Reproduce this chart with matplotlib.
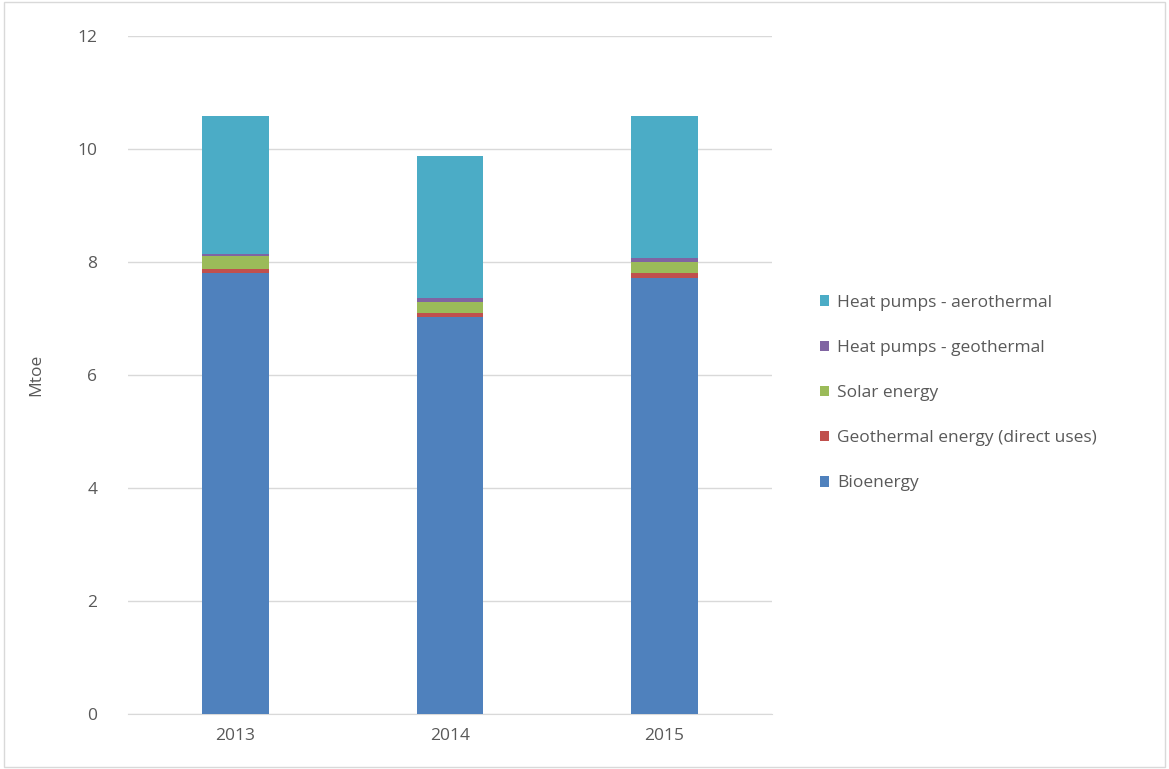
import numpy as np
import matplotlib
matplotlib.use("Agg")
import matplotlib.pyplot as plt
from matplotlib.patches import Rectangle

years = ["2013", "2014", "2015"]
bioenergy = [7.80, 7.02, 7.72]
geothermal_direct = [0.08, 0.08, 0.08]
solar = [0.22, 0.20, 0.20]
hp_geothermal = [0.05, 0.06, 0.07]
hp_aerothermal = [2.43, 2.52, 2.52]

series = [
    ("Bioenergy", bioenergy, "#4F81BD"),
    ("Geothermal energy (direct uses)", geothermal_direct, "#C0504D"),
    ("Solar energy", solar, "#9BBB59"),
    ("Heat pumps - geothermal", hp_geothermal, "#8064A2"),
    ("Heat pumps - aerothermal", hp_aerothermal, "#4BACC6"),
]

plt.rcParams['font.family'] = ['Open Sans', 'DejaVu Sans']
txt = "#595959"

fig = plt.figure(figsize=(11.69, 7.69), dpi=100)
ax = fig.add_axes([0.1095, 0.0715, 0.5505, 0.8815])

x = np.arange(len(years))
bottom = np.zeros(len(years))
handles = []
for name, vals, col in series:
    b = ax.bar(x, vals, width=0.31, bottom=bottom, color=col, label=name, zorder=3)
    handles.append(b)
    bottom += np.array(vals)

ax.set_xlim(-0.5, 2.5)
ax.set_ylim(0, 12)
ax.set_yticks(range(0, 13, 2))
ax.set_xticks(x)
ax.set_xticklabels(years)
ax.yaxis.grid(True, color="#D9D9D9", linewidth=1, zorder=0)
for s in ["top", "right", "left"]:
    ax.spines[s].set_visible(False)
ax.spines["bottom"].set_color("#D9D9D9")
ax.tick_params(axis="both", length=0, labelsize=12.5, colors=txt, pad=10)
ax.tick_params(axis="y", pad=22)
ax.set_ylabel("Mtoe", fontsize=12.5, color=txt, labelpad=24)

leg = fig.legend(handles[::-1], [s[0] for s in series][::-1],
                 loc="upper left", bbox_to_anchor=(0.688, 0.637),
                 frameon=False, fontsize=12.5, labelcolor=txt,
                 handlelength=0.55, handleheight=0.55, handletextpad=0.45,
                 labelspacing=1.68)

fig.patches.append(Rectangle((0.003, 0.003), 0.994, 0.994, transform=fig.transFigure,
                             fill=False, edgecolor="#D9D9D9", linewidth=1))

fig.savefig("out.png", dpi=100)
